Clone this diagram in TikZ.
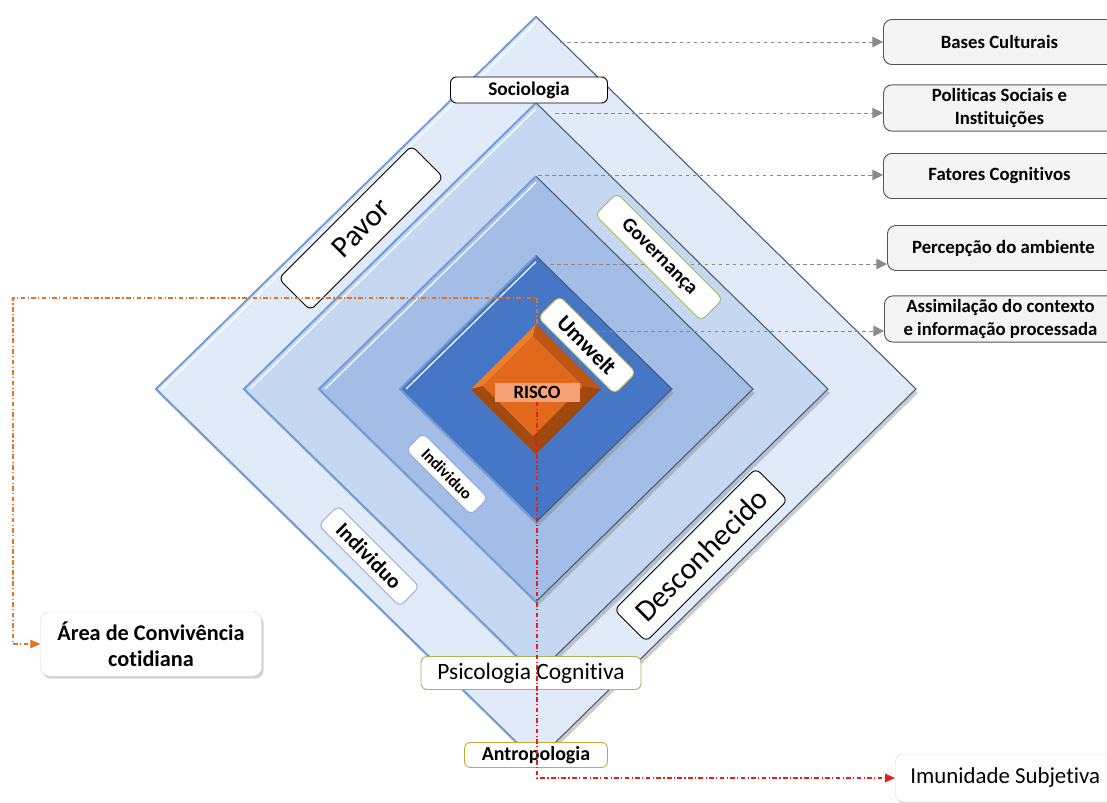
\documentclass[tikz,border=0pt]{standalone}
\usepackage{fontspec}
\setmainfont{Carlito}[Ligatures={NoCommon}]
\usepackage{tikz}
\usetikzlibrary{shapes, arrows.meta, calc, shadows}

\definecolor{layerA}{HTML}{E0EAF8}
\definecolor{layerB}{HTML}{C5D7F1}
\definecolor{layerC}{HTML}{A3BDE6}
\definecolor{layerD}{HTML}{4677C6}
\definecolor{edgeDark}{HTML}{45597A}
\definecolor{edgeLight}{HTML}{6E9FDA}
\definecolor{riskFace}{HTML}{E0691C}
\definecolor{riskLight}{HTML}{EA7D32}
\definecolor{riskDark}{HTML}{A1480F}
\definecolor{riskMid}{HTML}{BE5714}
\definecolor{riskTag}{HTML}{F6A177}
\definecolor{boxfill}{HTML}{F4F4F4}
\definecolor{boxline}{HTML}{555555}
\definecolor{linkgray}{HTML}{8A8A8A}
\definecolor{tagGreen}{HTML}{9BBB59}
\definecolor{tagGold}{HTML}{C9A932}
\definecolor{tagYellow}{HTML}{E5CF4A}
\definecolor{tagBlue}{HTML}{8FAEDC}
\definecolor{linkOrange}{HTML}{E37327}
\definecolor{linkRed}{HTML}{E81E1E}

\tikzstyle{tag} = [rectangle, draw, fill=white, rounded corners=0.18cm,
    text centered, inner sep=0pt, line width=0.8pt, font=\bfseries]
\tikzstyle{sidebox} = [rectangle, draw=boxline, fill=boxfill, rounded corners=0.25cm,
    minimum width=6.96cm, minimum height=1.35cm, anchor=west, align=center,
    line width=0.8pt, font=\bfseries\fontsize{16}{18.8}\selectfont]
\tikzstyle{endbox} = [rectangle, draw=black!15, fill=white, rounded corners=0.25cm,
    align=center, drop shadow={shadow xshift=0.06cm, shadow yshift=-0.08cm, opacity=0.35}]
\tikzstyle{link} = [draw=linkgray, dashed, line width=0.8pt,
    -{Triangle[length=0.32cm, width=0.32cm]}]
\tikzstyle{dashdot} = [dash pattern=on 4pt off 2pt on 1pt off 2pt, line width=1pt]

\begin{document}
\begin{tikzpicture}[x=0.03cm, y=-0.03cm]
    \useasboundingbox (0,0) rectangle (1107,802);
    % Layers
    \foreach \r/\c in {380/layerA, 292/layerB, 217/layerC, 136/layerD} {
        \fill[\c, drop shadow={shadow xshift=0.06cm, shadow yshift=-0.12cm, opacity=0.4}]
            (536,{389-0.98*\r}) -- (536+\r,389) -- (536,{389+0.98*\r}) -- (536-\r,389) -- cycle;
        \draw[edgeDark, line width=0.9pt]
            (536,{389-0.98*\r}) -- (536+\r,389) -- (536,{389+0.98*\r}) -- (536-\r,389) -- cycle;
        \draw[edgeLight, line width=1.6pt] (536,{389+0.98*\r}) -- (536-\r,389) -- (536,{389-0.98*\r});
        \draw[white, line width=1pt] (536-\r+6,389) -- (536,{389-0.98*\r+6});
    }
    % Risk pyramid
    \fill[riskDark] (536,324) -- (601,389) -- (536,454) -- (471,389) -- cycle;
    \fill[riskLight] (471,389) -- (536,324) -- (533,336) -- (483,386) -- cycle;
    \fill[riskMid] (536,324) -- (601,389) -- (583,386) -- (533,336) -- cycle;
    \fill[riskMid!85!black] (471,389) -- (536,454) -- (533,436) -- (483,386) -- cycle;
    \fill[riskFace] (533,336) -- (583,386) -- (533,436) -- (483,386) -- cycle;
    % Free ends
    \coordinate (c1) at (560,42);
    \coordinate (c2) at (555,113);
    \coordinate (c3) at (538,175);
    \coordinate (c4) at (550,264);
    \coordinate (c5) at (553,331);
    \coordinate (pyrTop) at (537,324);
    \coordinate (oA) at (537,298);
    \coordinate (oB) at (13,298);
    % Nodes
    \node [sidebox] (bases) at (883,42) {Bases Culturais};
    \node [sidebox] (polit) at (883,108) {Politicas Sociais e\\Instituições};
    \node [sidebox] (fatores) at (883,176) {Fatores Cognitivos};
    \node [sidebox] (percep) at (887,248) {Percepção do ambiente};
    \node [sidebox] (assim) at (884,319) {Assimilação do contexto\\e informação processada};
    % Edges to the side
    \path[link] (c1) -- (c1 -| bases.west);
    \path[link] (c2) -- (c2 -| polit.west);
    \path[link] (c3) -- (c3 -| fatores.west);
    \path[link] (c4) -- (c4 -| percep.west);
    \path[link] (c5) -- (c5 -| assim.west);
    % Tags
    \node [tag, minimum width=4.71cm, minimum height=0.78cm, font=\bfseries\fontsize{16.5}{18}\selectfont] (socio) at (529,90) {Sociologia};
    \node [tag, rotate=45, minimum width=5.64cm, minimum height=1.35cm, font=\fontsize{26}{28}\selectfont] (pavor) at (361,228) {Pavor};
    \node [tag, rotate=45, minimum width=6.0cm, minimum height=1.35cm, font=\fontsize{26}{28}\selectfont] (desc) at (701,555) {Desconhecido};
    \node [tag, draw=tagGreen, rotate=-45, minimum width=4.5cm, minimum height=0.92cm, font=\bfseries\fontsize{17}{19}\selectfont] (gov) at (659,257) {Governança};
    \node [tag, draw=tagYellow, rotate=-45, minimum width=3.24cm, minimum height=0.9cm, font=\bfseries\fontsize{19}{21}\selectfont] (umwelt) at (587,345) {Umwelt};
    \node [tag, draw=tagBlue, rotate=-45, minimum width=2.76cm, minimum height=0.72cm, font=\bfseries\fontsize{14}{16}\selectfont] (indA) at (447,474) {Individuo};
    \node [tag, draw=tagBlue, rotate=-45, minimum width=3.45cm, minimum height=0.84cm, font=\bfseries\fontsize{18}{20}\selectfont] (indB) at (369,556) {Individuo};
    \node [rectangle, fill=riskTag, minimum width=2.55cm, minimum height=0.57cm, inner sep=0pt, font=\bfseries\fontsize{16}{18}\selectfont] (risco) at (537,392) {RISCO};
    \node [tag, draw=tagGreen, minimum width=6.6cm, minimum height=0.99cm, font=\fontsize{20}{22}\selectfont] (psico) at (531,673) {Psicologia Cognitiva};
    \node [tag, draw=tagGold, minimum width=4.29cm, minimum height=0.75cm, font=\bfseries\fontsize{17}{19}\selectfont] (antro) at (536,755) {Antropologia};
    \node [endbox, minimum width=6.63cm, minimum height=1.92cm, font=\bfseries\fontsize{19}{22}\selectfont] (area) at (151,644) {Área de Convivência\\cotidiana};
    \node [endbox, anchor=west, minimum width=6.6cm, minimum height=1.44cm, font=\fontsize{19.5}{21}\selectfont] (imun) at (895,778) {Imunidade Subjetiva};
    % Edges from the risk
    \draw[linkOrange, dashdot, -{Triangle[length=0.3cm, width=0.26cm]}] (pyrTop) -- (oA) -- (oB) |- (area.west);
    \draw[linkRed, dashdot, -{Triangle[length=0.3cm, width=0.26cm]}] (risco.south) |- (imun.west);
\end{tikzpicture}
\end{document}
